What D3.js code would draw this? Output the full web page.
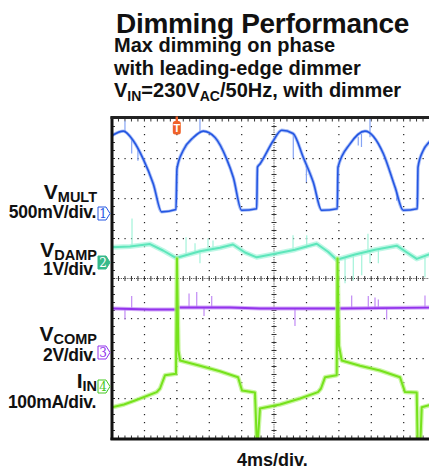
<!DOCTYPE html>
<html lang="en">
<head>
<meta charset="UTF-8">
<title>Dimming Performance</title>
<style>
  * { margin: 0; padding: 0; }
  body { background: #fff; overflow: hidden; }
  svg { display: block; font-family: "Liberation Sans", Arial, sans-serif; font-weight: bold; }
</style>
</head>
<body>
<script src="https://cdn.jsdelivr.net/npm/d3@7/dist/d3.min.js"></script>
<script>
// time in ms from the left edge of the screen, 4 ms/div
var timeDomain = [0, 40];
var triggerT = 8.0;

// ch1 VMULT (V)
var vmultT = [0, 1.4, 2.63, 3.86, 5.1, 6.14, 7.9, 8.02, 8.8, 10.04, 11.27, 12.72, 14.16, 14.98, 16.01, 17.86, 17.96, 18.27, 19.91, 20.95, 22.35, 23.62, 24.85, 25.89, 27.81, 27.9, 29.38, 31.23, 33.49, 34.94, 35.96, 37.69, 37.78, 38.43, 39.14, 40];
var vmultV = [0.975, 1.03, 0.91, 0.68, 0.37, 0.02, 0.05, 0.56, 0.79, 0.95, 1.03, 0.95, 0.68, 0.45, 0.04, 0.06, 0.58, 0.62, 0.91, 1.04, 1.0, 0.7, 0.39, 0.04, 0.06, 0.58, 0.87, 1.03, 0.75, 0.33, 0.04, 0.06, 0.58, 0.79, 0.89, 0.97];
var vmultSpikeT = [1.6, 2.43, 3.2, 10.86, 22.38, 24.0, 30.4, 30.8, 31.85, 35.15];
var vmultSpikeV = [1.16, 0.75, 0.66, 1.19, 0.69, 0.39, 0.85, 0.83, 1.21, 0.16];

// ch2 VDAMP (V)
var vdampT = [0, 2.22, 4.69, 6.3, 7.78, 8.02, 10.86, 13.33, 14.94, 16.42, 17.86, 20.12, 22.59, 25.27, 26.67, 27.74, 30.0, 32.47, 35.15, 36.42, 37.62, 39.14, 40];
var vdampV = [0.38, 0.4, 0.46, 0.3, 0.13, 0.12, 0.28, 0.37, 0.45, 0.25, 0.13, 0.22, 0.32, 0.47, 0.27, 0.07, 0.2, 0.32, 0.42, 0.25, 0.09, 0.2, 0.25];
var vdampSpikeT = [2.47, 9.14, 10.25, 10.86, 11.85, 12.47, 22.35, 24.04, 28.77, 29.79, 30.83, 31.6, 31.85, 32.88, 38.64];
var vdampSpikeV = [1.1, 0.63, 0.48, -0.02, 0.6, 0.55, 0.68, 0.68, -0.52, -0.45, -0.32, 0.72, -0.02, -0.02, -0.37];

// ch3 VCOMP (V)
var vcompT = [0, 4.69, 7.9, 8.15, 14.57, 18.27, 23.2, 27.8, 33.1, 40];
var vcompV = [2.2, 2.15, 2.15, 2.25, 2.25, 2.2, 2.2, 2.2, 2.22, 2.25];
var vcompSpikeT = [1.6, 2.43, 9.51, 10.46, 11.36, 12.31, 22.59, 29.59, 31.64, 32.47, 32.88, 33.91, 38.64];
var vcompSpikeV = [1.65, 2.82, 2.95, 3.02, 1.82, 2.82, 1.32, 2.85, 2.82, 2.75, 2.65, 1.65, 2.85];

// ch4 IIN (mA)
var iinT = [0, 1.48, 2.84, 5.52, 5.93, 6.54, 7.9, 8.02, 8.2, 8.4, 10.86, 13.33, 15.56, 16.05, 17.65, 17.86, 18.02, 18.27, 20.74, 23.21, 25.43, 25.8, 26.3, 27.74, 27.84, 28.02, 28.36, 30.62, 33.09, 35.56, 36.17, 37.62, 37.72, 38.09, 38.24, 39.14, 40];
var iinV = [-52, -45, -35, -14, -5, 28, 32, 320, 90, 65, 52, 38, 23, -10, -15, -130, -130, -55, -45, -30, -14, -5, 23, 28, 320, 102, 65, 52, 40, 23, -14, -15, -130, -130, -52, -47, -42];

var W = 429, H = 472;
var pLeft = 112, pTop = 118.5, divX = 32.4, divY = 40;
var pBottom = pTop + 8 * divY, pRight = pLeft + 10 * divX;

var svg = d3.select('body').append('svg').attr('width', W).attr('height', H);

var x = d3.scaleLinear().domain(timeDomain).range([pLeft, pRight]);
var yDiv = d3.scaleLinear().domain([-4, 4]).range([pBottom, pTop]);

var channels = [
  {t: vmultT, v: vmultV, st: vmultSpikeT, sv: vmultSpikeV, perDiv: 0.5, ground: 1.625, color: '#2456e2', halo: '#86a4f4', w: 1.6, hw: 3.4, curve: d3.curveMonotoneX, num: '1', filled: false},
  {t: vdampT, v: vdampV, st: vdampSpikeT, sv: vdampSpikeV, perDiv: 1, ground: 0.4, color: '#5ee6bb', halo: '#a3f3da', w: 2, hw: 5, curve: d3.curveLinear, num: '2', filled: true, mark: '#35b98a'},
  {t: vcompT, v: vcompV, st: vcompSpikeT, sv: vcompSpikeV, perDiv: 2, ground: -1.85, color: '#9333ec', halo: '#c18af5', w: 1.8, hw: 4, curve: d3.curveLinear, num: '3', filled: false},
  {t: iinT, v: iinV, st: [], sv: [], perDiv: 100, ground: -2.7, color: '#76e21c', halo: '#b4f27c', w: 2, hw: 4.5, curve: d3.curveLinear, num: '4', filled: false, mark: '#45c81f'}
];

function yOf(ch, val) { return yDiv(ch.ground + val / ch.perDiv); }

function interp(ts, vs, t) {
  var i = d3.bisectRight(ts, t);
  if (i <= 0) return vs[0];
  if (i >= ts.length) return vs[vs.length - 1];
  var k = (t - ts[i - 1]) / (ts[i] - ts[i - 1]);
  return vs[i - 1] + k * (vs[i] - vs[i - 1]);
}

// ---- grid ----
var grid = svg.append('g');

// dotted vertical grid lines
d3.range(1, 10).filter(function (i) { return i !== 5; }).forEach(function (i) {
  grid.selectAll(null).data(d3.range(0, 41)).enter().append('rect')
    .attr('x', pLeft + i * divX - 0.5).attr('y', function (k) { return pTop + k * 8 - 0.5; })
    .attr('width', 1.2).attr('height', 1.2).attr('fill', '#222');
});
// dotted horizontal grid lines
d3.range(1, 8).filter(function (j) { return j !== 4; }).forEach(function (j) {
  grid.selectAll(null).data(d3.range(0, 51)).enter().append('rect')
    .attr('x', function (k) { return pLeft + k * divX / 5 - 0.5; }).attr('y', pTop + j * divY - 0.5)
    .attr('width', 1.2).attr('height', 1.2).attr('fill', '#222');
});

// center axes with minor ticks
var cx = pLeft + 5 * divX, cy = pTop + 4 * divY;
grid.append('line').attr('x1', pLeft).attr('x2', pRight).attr('y1', cy).attr('y2', cy)
  .attr('stroke', '#333').attr('stroke-width', 1).attr('stroke-dasharray', '1,1.2');
grid.append('line').attr('x1', cx).attr('x2', cx).attr('y1', pTop).attr('y2', pBottom)
  .attr('stroke', '#333').attr('stroke-width', 1).attr('stroke-dasharray', '1,1.2');
grid.selectAll(null).data(d3.range(0, 51)).enter().append('line')
  .attr('x1', function (k) { return pLeft + k * divX / 5; }).attr('x2', function (k) { return pLeft + k * divX / 5; })
  .attr('y1', cy - 2.5).attr('y2', cy + 2.5).attr('stroke', '#333').attr('stroke-width', 1);
grid.selectAll(null).data(d3.range(0, 41)).enter().append('line')
  .attr('y1', function (k) { return pTop + k * 8; }).attr('y2', function (k) { return pTop + k * 8; })
  .attr('x1', cx - 2.5).attr('x2', cx + 2.5).attr('stroke', '#333').attr('stroke-width', 1);

// frame ticks
grid.selectAll(null).data(d3.range(0, 51)).enter().append('line')
  .attr('x1', function (k) { return pLeft + k * divX / 5; }).attr('x2', function (k) { return pLeft + k * divX / 5; })
  .attr('y1', pTop).attr('y2', pTop + 3).attr('stroke', '#333');
grid.selectAll(null).data(d3.range(0, 51)).enter().append('line')
  .attr('x1', function (k) { return pLeft + k * divX / 5; }).attr('x2', function (k) { return pLeft + k * divX / 5; })
  .attr('y1', pBottom - 3).attr('y2', pBottom).attr('stroke', '#333');
grid.selectAll(null).data(d3.range(0, 41)).enter().append('line')
  .attr('y1', function (k) { return pTop + k * 8; }).attr('y2', function (k) { return pTop + k * 8; })
  .attr('x1', pLeft).attr('x2', pLeft + 3).attr('stroke', '#333');

// ---- traces ----
svg.append('defs').append('clipPath').attr('id', 'plotclip')
  .append('rect').attr('x', pLeft).attr('y', pTop).attr('width', pRight - pLeft).attr('height', pBottom - pTop);
var traces = svg.append('g').attr('clip-path', 'url(#plotclip)');

channels.forEach(function (ch) {
  var pts = ch.t.map(function (t, i) { return [t, ch.v[i]]; });
  var line = d3.line().curve(ch.curve)
    .x(function (d) { return x(d[0]); }).y(function (d) { return yOf(ch, d[1]); });
  traces.append('path').attr('d', line(pts)).attr('fill', 'none')
    .attr('stroke', ch.halo).attr('stroke-width', ch.hw).attr('stroke-opacity', 0.7).attr('stroke-linejoin', 'round');
  traces.selectAll(null).data(ch.st).enter().append('line')
    .attr('x1', function (t) { return x(t); }).attr('x2', function (t) { return x(t); })
    .attr('y1', function (t) { return yOf(ch, interp(ch.t, ch.v, t)); })
    .attr('y2', function (t, i) { return yOf(ch, ch.sv[i]); })
    .attr('stroke', ch.halo).attr('stroke-width', 1.2);
  traces.append('path').attr('d', line(pts)).attr('fill', 'none')
    .attr('stroke', ch.color).attr('stroke-width', ch.w).attr('stroke-linejoin', 'round');
});

// frame
svg.append('line').attr('x1', pLeft).attr('x2', pLeft).attr('y1', pTop - 2).attr('y2', pBottom + 1.5)
  .attr('stroke', '#111').attr('stroke-width', 3);
svg.append('line').attr('x1', pLeft - 1.5).attr('x2', W).attr('y1', pTop - 1).attr('y2', pTop - 1)
  .attr('stroke', '#222').attr('stroke-width', 3);
svg.append('line').attr('x1', pLeft - 1.5).attr('x2', W).attr('y1', pBottom + 0.5).attr('y2', pBottom + 0.5)
  .attr('stroke', '#111').attr('stroke-width', 3);

// trigger marker
var tx = x(triggerT);
var trig = svg.append('g');
trig.append('rect').attr('x', tx - 1.2).attr('y', pTop - 2).attr('width', 2.4).attr('height', 5).attr('fill', '#f0622a');
trig.append('rect').attr('x', tx - 4).attr('y', pTop + 2.5).attr('width', 8).attr('height', 13.5).attr('rx', 2.5).attr('fill', '#f0622a');
trig.append('text').attr('x', tx).attr('y', pTop + 13.5).attr('text-anchor', 'middle')
  .attr('font-size', 11).attr('fill', '#fff').text('T');

// channel markers
channels.forEach(function (ch) {
  var gy = yDiv(ch.ground), x0 = 98;
  var col = ch.mark || ch.color;
  svg.append('path')
    .attr('d', 'M' + x0 + ',' + (gy - 6.5) + 'H' + (x0 + 8) + 'L' + (x0 + 12) + ',' + gy + 'L' + (x0 + 8) + ',' + (gy + 6.5) + 'H' + x0 + 'Z')
    .attr('fill', ch.filled ? col : '#fff').attr('stroke', col).attr('stroke-width', 1);
  svg.append('text').attr('x', x0 + 5).attr('y', gy + 4.5).attr('text-anchor', 'middle')
    .attr('font-size', 12).attr('font-weight', 'normal').attr('font-family', 'DejaVu Serif, serif')
    .attr('fill', ch.filled ? '#fff' : col).text(ch.num);
});

// ---- texts ----
function subLabel(xp, yp, main, sub, size, subSize) {
  var t = svg.append('text').attr('x', xp).attr('y', yp).attr('text-anchor', 'end').attr('fill', '#111');
  t.append('tspan').attr('font-size', size).text(main);
  t.append('tspan').attr('font-size', subSize).attr('dy', 3).text(sub);
}
function plainLabel(xp, yp, txt, size) {
  svg.append('text').attr('x', xp).attr('y', yp).attr('text-anchor', 'end').attr('fill', '#111')
    .attr('font-size', size).attr('letter-spacing', -0.3).text(txt);
}
subLabel(97, 199, 'V', 'MULT', 21, 14.5);
plainLabel(96, 218, '500mV/div.', 17.5);
subLabel(97, 256.5, 'V', 'DAMP', 21, 14.5);
plainLabel(96, 275, '1V/div.', 17.5);
subLabel(97, 340.5, 'V', 'COMP', 21, 14.5);
plainLabel(96, 361, '2V/div.', 17.5);
subLabel(97, 387.5, 'I', 'IN', 21, 14.5);
plainLabel(96, 407.5, '100mA/div.', 17.5);

svg.append('text').attr('x', 116).attr('y', 33).attr('font-size', 28).attr('fill', '#111')
  .attr('letter-spacing', -0.3).text('Dimming Performance');
svg.append('text').attr('x', 114).attr('y', 52).attr('font-size', 20).attr('fill', '#111').text('Max dimming on phase');
svg.append('text').attr('x', 114).attr('y', 74.5).attr('font-size', 20).attr('fill', '#111').text('with leading-edge dimmer');
var l3 = svg.append('text').attr('x', 114).attr('y', 97).attr('font-size', 20).attr('fill', '#111');
l3.append('tspan').text('V');
l3.append('tspan').attr('font-size', 14).attr('dy', 4).text('IN');
l3.append('tspan').attr('dy', -4).text('=230V');
l3.append('tspan').attr('font-size', 14).attr('dy', 4).text('AC');
l3.append('tspan').attr('dy', -4).text('/50Hz, with dimmer');

svg.append('text').attr('x', 237).attr('y', 466).attr('font-size', 18).attr('fill', '#111').text('4ms/div.');
</script>
</body>
</html>
